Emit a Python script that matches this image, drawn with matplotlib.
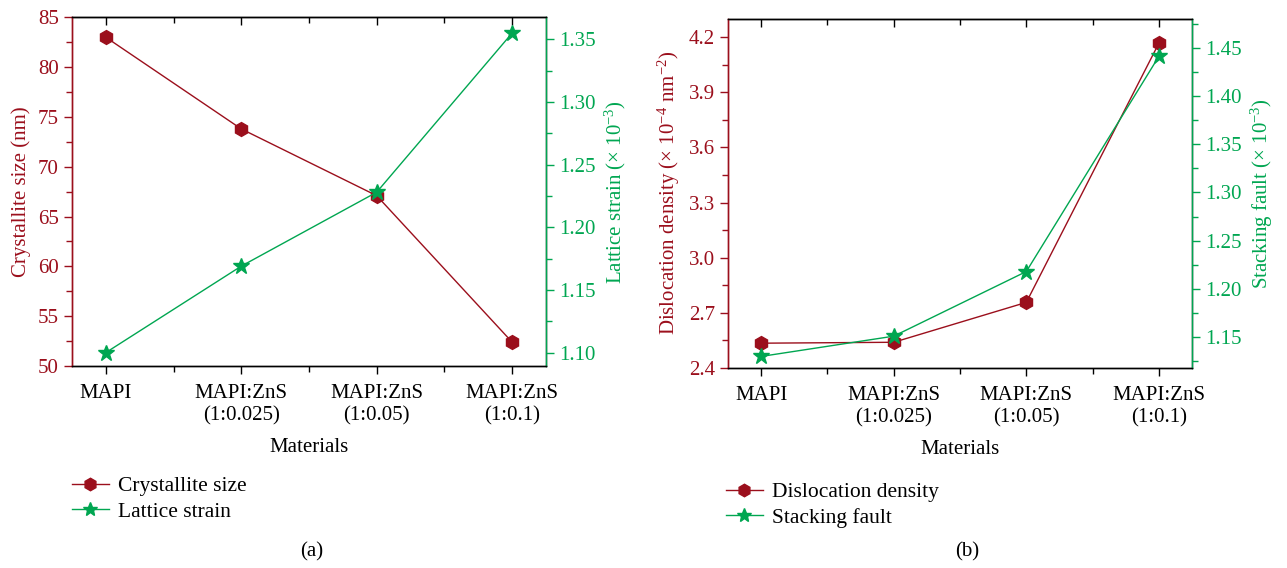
import matplotlib
matplotlib.use("Agg")
import matplotlib.pyplot as plt
from matplotlib.ticker import MultipleLocator, FixedLocator, FormatStrFormatter
from matplotlib.lines import Line2D

plt.rcParams["font.family"] = ["Liberation Serif", "DejaVu Serif"]
plt.rcParams["mathtext.fontset"] = "custom"
plt.rcParams["mathtext.rm"] = "Liberation Serif"
plt.rcParams["mathtext.it"] = "Liberation Serif:italic"
plt.rcParams["font.size"] = 15

# Data
materials = ["MAPI", "MAPI:ZnS\n(1:0.025)", "MAPI:ZnS\n(1:0.05)", "MAPI:ZnS\n(1:0.1)"]
crystallite_size = [83.0, 73.8, 67.1, 52.4]          # nm
lattice_strain = [1.100, 1.169, 1.228, 1.355]         # x 10^-3
dislocation_density = [2.535, 2.54, 2.757, 4.167]     # x 10^-4 nm^-2
stacking_fault = [1.130, 1.151, 1.218, 1.441]         # x 10^-3

RED = "#9b0f1c"
GREEN = "#00a651"

fig = plt.figure(figsize=(12.87, 5.68), dpi=100)


def style_panel(ax, ax2, left_lim, left_major, left_minor, right_lim, right_major, right_minor):
    x = range(len(materials))
    ax.set_xlim(-0.25, 3.25)
    ax.set_xticks(list(x))
    ax.set_xticklabels(materials, linespacing=1.25)
    ax.xaxis.set_minor_locator(FixedLocator([0.5, 1.5, 2.5]))
    ax.tick_params(axis="x", which="both", direction="out", top=False, pad=7)
    ax.tick_params(axis="x", which="major", length=6, width=1)
    ax.tick_params(axis="x", which="minor", length=4, width=1)
    ax.set_xlabel("Materials", labelpad=9)

    # inward ticks along the top edge
    top = ax.secondary_xaxis("top")
    top.set_xticks(list(x))
    top.set_xticklabels([])
    top.xaxis.set_minor_locator(FixedLocator([0.5, 1.5, 2.5]))
    top.tick_params(axis="x", which="major", direction="in", length=6, width=1)
    top.tick_params(axis="x", which="minor", direction="in", length=4, width=1)

    ax.set_ylim(*left_lim)
    ax.yaxis.set_major_locator(MultipleLocator(left_major))
    ax.yaxis.set_minor_locator(MultipleLocator(left_minor))
    ax.tick_params(axis="y", which="both", colors=RED, direction="out")
    ax.tick_params(axis="y", which="major", length=6, width=1)
    ax.tick_params(axis="y", which="minor", length=4, width=1)
    ax.spines["left"].set_color(RED)

    ax2.set_ylim(*right_lim)
    ax2.yaxis.set_major_locator(MultipleLocator(right_major))
    ax2.yaxis.set_minor_locator(MultipleLocator(right_minor))
    ax2.tick_params(axis="y", which="both", colors=GREEN, direction="out")
    ax2.tick_params(axis="y", which="major", length=6, width=1)
    ax2.tick_params(axis="y", which="minor", length=4, width=1)
    ax2.spines["right"].set_color(GREEN)
    ax2.spines["left"].set_color(RED)
    for a in (ax, ax2):
        for s in a.spines.values():
            s.set_linewidth(1.0)


x = list(range(len(materials)))

# Panel (a): crystallite size and lattice strain
axa = fig.add_axes([0.0559, 0.3556, 0.3683, 0.6139])
axa2 = axa.twinx()
axa.plot(x, crystallite_size, color=RED, marker="h", markersize=10, lw=1.0, zorder=3)
axa2.plot(x, lattice_strain, color=GREEN, marker="*", markersize=12, lw=1.0, zorder=3)
style_panel(axa, axa2, (50, 85), 5, 2.5, (1.0893, 1.3676), 0.05, 0.025)
axa2.yaxis.set_major_formatter(FormatStrFormatter("%.2f"))
axa.set_ylabel("Crystallite size (nm)", color=RED, labelpad=5)
axa2.set_ylabel(r"Lattice strain ($\times$ 10$^{-3}$)", color=GREEN, labelpad=5)

# Panel (b): dislocation density and stacking fault
axb = fig.add_axes([0.5657, 0.3521, 0.3605, 0.6149])
axb2 = axb.twinx()
axb.plot(x, dislocation_density, color=RED, marker="h", markersize=10, lw=1.0, zorder=3)
axb2.plot(x, stacking_fault, color=GREEN, marker="*", markersize=12, lw=1.0, zorder=3)
style_panel(axb, axb2, (2.4, 4.3), 0.3, 0.15, (1.118, 1.48), 0.05, 0.025)
axb.yaxis.set_major_formatter(FormatStrFormatter("%.1f"))
axb2.yaxis.set_major_formatter(FormatStrFormatter("%.2f"))
axb.set_ylabel(r"Dislocation density ($\times$ 10$^{-4}$ nm$^{-2}$)", color=RED, labelpad=5)
axb2.set_ylabel(r"Stacking fault ($\times$ 10$^{-3}$)", color=GREEN, labelpad=5)


def panel_legend(labels, x0, y0):
    handles = [
        Line2D([], [], color=RED, marker="h", markersize=9, lw=1.0),
        Line2D([], [], color=GREEN, marker="*", markersize=10, lw=1.0),
    ]
    fig.legend(handles, labels, loc="upper left", bbox_to_anchor=(x0, y0),
               frameon=False, handlelength=1.7, handletextpad=0.45,
               borderpad=0, borderaxespad=0, labelspacing=0.25, fontsize=15.5)


panel_legend(["Crystallite size", "Lattice strain"], 72 / 1287, 1 - 476 / 568)
panel_legend(["Dislocation density", "Stacking fault"], 726 / 1287, 1 - 482 / 568)

fig.text(312 / 1287, 1 - 552 / 568, "(a)", ha="center", va="center", fontsize=15)
fig.text(967 / 1287, 1 - 552 / 568, "(b)", ha="center", va="center", fontsize=15)

fig.savefig("out.png", dpi=100)
